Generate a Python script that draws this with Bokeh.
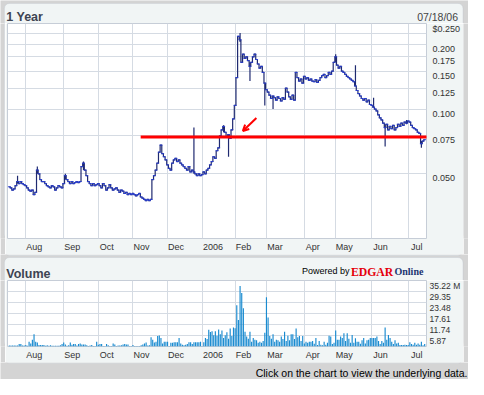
import numpy as np
from bokeh.plotting import figure
from bokeh.layouts import column, row
from bokeh.models import (Range1d, FixedTicker, CustomJSTickFormatter, BoxAnnotation,
                          Label, Arrow, OpenHead, ColumnDataSource)
from bokeh.embed import file_html
from bokeh.resources import INLINE

# ---------------- data ----------------
month_labels = ["Aug", "Sep", "Oct", "Nov", "Dec", "2006", "Feb", "Mar", "Apr", "May", "Jun", "Jul"]
month_start = [10, 33, 54, 75, 96, 117, 137, 156, 179, 198, 220, 242]   # trading-day index

close_jul05 = [0.0435, 0.043, 0.042, 0.0425, 0.044, 0.046, 0.045, 0.046, 0.045, 0.0445]
close_aug05 = [0.044, 0.043, 0.042, 0.0415, 0.042, 0.040, 0.041, 0.052, 0.050, 0.047, 0.046, 0.046,
               0.045, 0.044, 0.0435, 0.043, 0.044, 0.0435, 0.042, 0.043, 0.044, 0.0435, 0.043]
close_sep05 = [0.045, 0.049, 0.047, 0.046, 0.045, 0.046, 0.045, 0.0455, 0.046, 0.0455, 0.046,
               0.054, 0.056, 0.052, 0.049, 0.046, 0.045, 0.044, 0.045, 0.044, 0.0445]
close_oct05 = [0.045, 0.044, 0.043, 0.045, 0.044, 0.042, 0.043, 0.0445, 0.043, 0.042, 0.0425,
               0.043, 0.042, 0.041, 0.042, 0.0415, 0.0405, 0.041, 0.040, 0.0405, 0.040]
close_nov05 = [0.0405, 0.040, 0.0395, 0.040, 0.0405, 0.039, 0.0385, 0.038, 0.0375, 0.038, 0.0375,
               0.038, 0.047, 0.049, 0.052, 0.056, 0.063, 0.068, 0.062, 0.060, 0.058]
close_dec05 = [0.055, 0.053, 0.052, 0.056, 0.058, 0.059, 0.057, 0.058, 0.056, 0.055, 0.054,
               0.053, 0.052, 0.054, 0.051, 0.052, 0.051, 0.050, 0.049, 0.050, 0.049]
close_jan06 = [0.0495, 0.051, 0.050, 0.052, 0.053, 0.055, 0.057, 0.060, 0.059, 0.064, 0.066,
               0.075, 0.080, 0.083, 0.078, 0.074, 0.076, 0.073, 0.080, 0.090]
close_feb06 = [0.104, 0.140, 0.218, 0.210, 0.165, 0.180, 0.172, 0.175, 0.168, 0.158, 0.165,
               0.175, 0.180, 0.170, 0.162, 0.155, 0.158, 0.148, 0.132]
close_mar06 = [0.123, 0.120, 0.116, 0.112, 0.115, 0.113, 0.110, 0.114, 0.112, 0.109, 0.113, 0.111,
               0.125, 0.120, 0.114, 0.111, 0.116, 0.110, 0.148, 0.140, 0.135, 0.138, 0.132]
close_apr06 = [0.142, 0.138, 0.140, 0.136, 0.138, 0.135, 0.134, 0.137, 0.133, 0.136, 0.140,
               0.143, 0.145, 0.140, 0.143, 0.148, 0.145, 0.150, 0.165]
close_may06 = [0.175, 0.160, 0.155, 0.158, 0.150, 0.148, 0.145, 0.142, 0.140, 0.138, 0.136,
               0.134, 0.128, 0.122, 0.118, 0.115, 0.112, 0.110, 0.112, 0.108, 0.110, 0.105]
close_jun06 = [0.104, 0.102, 0.100, 0.098, 0.094, 0.091, 0.089, 0.086, 0.082, 0.085, 0.080,
               0.083, 0.081, 0.084, 0.080, 0.082, 0.085, 0.083, 0.086, 0.084, 0.087, 0.086]
close_jul06 = [0.088, 0.087, 0.084, 0.082, 0.081, 0.080, 0.078, 0.077, 0.069, 0.071, 0.072]

spike_idx = [5, 17, 34, 45, 112, 130, 133, 140, 146, 155, 160, 198, 210, 221, 228, 241, 250]
spike_lo = [0.045, 0.050, 0.047, 0.052, 0.050, 0.078, 0.060, 0.205, 0.135, 0.104, 0.100,
            0.165, 0.128, 0.102, 0.067, 0.085, 0.066]
spike_hi = [0.049, 0.054, 0.050, 0.057, 0.082, 0.084, 0.076, 0.226, 0.165, 0.132, 0.115,
            0.180, 0.160, 0.113, 0.085, 0.089, 0.071]

vol_jul05 = [0.5, 0.5, 0.5, 0.5, 0.6, 0.6, 1.3, 1.3, 0.5, 0.6]
vol_aug05 = [0.8, 0.4, 2.6, 1.6, 3.6, 6.6, 2.6, 2.1, 0.8, 0.8, 0.8, 0.8, 0.4, 0.7, 0.4, 0.7,
             0.4, 0.4, 0.4, 0.4, 0.4, 0.7, 1.3]
vol_sep05 = [2.1, 1.1, 0.4, 0.7, 2.1, 1.0, 1.3, 1.3, 0.5, 1.3, 1.6, 1.1, 1.1, 1.1, 0.7, 0.3,
             0.5, 0.8, 0.3, 0.3, 2.6]
vol_oct05 = [1.0, 1.3, 1.3, 0.3, 0.3, 1.3, 0.7, 0.3, 0.3, 1.6, 1.1, 0.3, 0.5, 0.5, 0.7, 1.1,
             1.3, 1.1, 1.1, 0.3, 0.3]
vol_nov05 = [0.8, 0.3, 0.3, 0.3, 0.3, 0.7, 1.1, 1.6, 2.1, 0.5, 0.7, 5.0, 3.6, 2.1, 2.5, 5.6,
             5.9, 4.6, 1.6, 2.6, 2.6]
vol_dec05 = [2.6, 0.3, 2.0, 2.0, 2.3, 2.3, 2.3, 4.6, 1.6, 1.0, 0.7, 1.0, 1.3, 2.3, 2.3, 1.3,
             2.3, 2.3, 2.3, 2.3, 2.6]
vol_jan06 = [0.3, 2.3, 4.6, 4.0, 9.0, 7.7, 8.2, 6.0, 8.2, 5.8, 9.1, 6.6, 8.6, 4.6, 6.0, 7.6,
             4.1, 9.6, 5.6, 10.2]
vol_feb06 = [9.7, 22.0, 14.1, 32.3, 28.6, 20.4, 7.9, 5.3, 4.1, 7.9, 2.5, 4.6, 3.6, 3.3, 2.0,
             2.6, 2.0, 3.0, 7.4]
vol_mar06 = [26.3, 15.5, 5.6, 4.1, 6.6, 2.5, 3.6, 3.3, 2.5, 5.3, 4.0, 7.9, 3.0, 5.8, 3.3, 6.6,
             6.6, 4.0, 9.6, 4.9, 5.6, 3.0, 5.6]
vol_apr06 = [1.6, 2.6, 2.0, 2.5, 2.5, 3.0, 1.5, 4.6, 0.8, 3.0, 1.0, 0.7, 2.5, 1.0, 2.0, 5.8,
             5.3, 1.3, 2.0]
vol_may06 = [8.6, 3.6, 3.6, 5.3, 4.6, 7.1, 3.0, 7.1, 4.1, 2.0, 6.1, 2.0, 4.4, 2.6, 2.6, 1.5,
             3.3, 4.6, 1.6, 3.3, 3.6, 4.6]
vol_jun06 = [4.6, 4.6, 4.6, 5.3, 3.0, 1.3, 3.0, 2.0, 10.2, 3.6, 6.1, 4.6, 2.5, 1.3, 3.3, 1.6,
             2.0, 0.8, 0.8, 0.8, 1.0, 0.8]
vol_jul06 = [0.8, 2.3, 1.3, 1.0, 2.0, 1.0, 1.6, 1.0, 2.6, 0.7, 1.3]

price_grid = [0.05, 0.075, 0.1, 0.125, 0.15, 0.175, 0.2, 0.225]
price_tick_vals = [0.05, 0.075, 0.1, 0.125, 0.15, 0.175, 0.2, 0.25]
price_tick_labels = ["0.050", "0.075", "0.100", "0.125", "0.150", "0.175", "0.200", "$0.250"]
vol_tick_vals = [5.87, 11.74, 17.61, 23.48, 29.35, 35.22]
vol_tick_labels = ["5.87", "11.74", "17.61", "23.48", "29.35", "35.22 M"]
resistance_level = 0.0741
resistance_from = 79.7
arrow_from = (149.9, 0.0909)
arrow_to = (141.7, 0.0791)

# ---------------- assemble ----------------
close = (close_jul05 + close_aug05 + close_sep05 + close_oct05 + close_nov05 + close_dec05 +
         close_jan06 + close_feb06 + close_mar06 + close_apr06 + close_may06 + close_jun06 + close_jul06)
volume = (vol_jul05 + vol_aug05 + vol_sep05 + vol_oct05 + vol_nov05 + vol_dec05 + vol_jan06 +
          vol_feb06 + vol_mar06 + vol_apr06 + vol_may06 + vol_jun06 + vol_jul06)
idx = list(range(len(close)))

# ---------------- layout ----------------
W = 468
LS, RS = 5, 5            # side strips
CW = W - LS - RS         # plot column width
HDR1, P1H = 23, 231
HDR2, P2H = 26, 82
HF = 379 - HDR1 - P1H - HDR2 - P2H
Y_P1 = HDR1
Y_H2 = HDR1 + P1H
Y_P2 = Y_H2 + HDR2
Y_F = Y_P2 + P2H

BG = "#d4d4d4"
PANEL = "#f1f5f5"
PANEL_LINE = "#b6bec6"
GRID = "#d5dbe3"
TXT = "#333333"
HEAD = "#3d4451"
FONT = "Liberation Sans"
SERIF = "Liberation Serif"

panels = [(3.9, 462.5, 2.9, 255.0), (3.9, 462.5, 257.0, 362.7)]   # left, right, top, bottom (page px)
x_range = Range1d(-1.1, 253.1)
label_pos = [s + (1.6 + 0.5 * 4.8 * len(m)) / 1.711 for s, m in zip(month_start, month_labels)]


def deco(gx0, gy0, w, h):
    """A figure whose frame is its whole canvas: background, panel edges and texts."""
    p = figure(width=w, height=h, output_backend="svg", toolbar_location=None,
               x_range=Range1d(0, w), y_range=Range1d(0, h),
               x_axis_location=None, y_axis_location=None,
               min_border=0, min_border_left=0, min_border_right=0,
               min_border_top=0, min_border_bottom=0)
    p.grid.visible = False
    p.outline_line_color = None
    p.background_fill_color = BG
    p.border_fill_color = BG
    for (l, r, t, b) in panels:
        p.add_layout(BoxAnnotation(left=l - gx0, right=r - gx0, top=h - (t - gy0),
                                   bottom=h - (b - gy0), fill_color=PANEL, fill_alpha=1,
                                   line_color=PANEL_LINE, line_width=1, border_radius=5))
    p._g = (gx0, gy0, h)
    return p


def text(p, gx, gy, s, **kw):
    gx0, gy0, h = p._g
    p.add_layout(Label(x=gx - gx0, y=h - (gy - gy0), text=s, **kw))


def style(p):
    p.border_fill_color = PANEL
    p.background_fill_color = "white"
    p.outline_line_color = "#c6cdd7"
    p.xgrid.ticker = FixedTicker(ticks=month_start)
    p.grid.grid_line_color = GRID
    p.grid.grid_line_width = 1
    for ax in p.axis:
        ax.axis_line_color = None
        ax.major_tick_line_color = None
        ax.minor_tick_line_color = None
        ax.major_tick_out = 0
        ax.major_tick_in = 0
        ax.major_label_text_font = FONT
        ax.major_label_text_font_size = "9px"
        ax.major_label_text_color = TXT
    p.xaxis.ticker = FixedTicker(ticks=label_pos)
    p.xaxis.formatter = CustomJSTickFormatter(args=dict(labels=month_labels),
                                              code="return labels[index];")
    p.xaxis.major_label_standoff = 3


# ---------------- price panel ----------------
p1 = figure(width=CW, height=P1H, output_backend="svg", toolbar_location=None,
            x_range=x_range, y_range=Range1d(0.025, 0.25), y_axis_type="log",
            y_axis_location="right",
            min_border_left=2, min_border_right=36, min_border_top=0, min_border_bottom=16)
style(p1)
p1.ygrid.ticker = FixedTicker(ticks=price_grid)
shift = np.exp(-4.8 / 98.0)
p1.yaxis.ticker = FixedTicker(ticks=[v * shift for v in price_tick_vals])
p1.yaxis.formatter = CustomJSTickFormatter(args=dict(labels=price_tick_labels),
                                           code="return labels[index];")
p1.yaxis.major_label_standoff = 6

src = ColumnDataSource(dict(x=idx, y=close))
p1.segment(x0=spike_idx, y0=spike_lo, x1=spike_idx, y1=spike_hi,
           line_color="#1f2a70", line_width=1.2)
p1.step("x", "y", source=src, mode="center", line_color="#1f2a70", line_width=1.2)
p1.scatter(x=idx, y=close, marker="dash", size=3, line_color="#2b3fd0", line_width=1)
p1.segment(x0=[resistance_from], y0=[resistance_level], x1=[x_range.end + 20],
           y1=[resistance_level], line_color="#ff0000", line_width=3)
p1.add_layout(Arrow(end=OpenHead(size=6, line_color="#ff0000", line_width=2),
                    x_start=arrow_from[0], y_start=arrow_from[1],
                    x_end=arrow_to[0], y_end=arrow_to[1],
                    line_color="#ff0000", line_width=2))

# ---------------- volume panel ----------------
p2 = figure(width=CW, height=P2H, output_backend="svg", toolbar_location=None,
            x_range=x_range, y_range=Range1d(0, 35.22), y_axis_location="right",
            min_border_left=2, min_border_right=36, min_border_top=0, min_border_bottom=16)
style(p2)
p2.ygrid.ticker = FixedTicker(ticks=vol_tick_vals[:-1])
p2.yaxis.ticker = FixedTicker(ticks=[v - 2.7 for v in vol_tick_vals])
p2.yaxis.formatter = CustomJSTickFormatter(args=dict(labels=vol_tick_labels),
                                           code="return labels[index];")
p2.yaxis.major_label_standoff = 3
p2.yaxis.major_label_text_font_size = "8.5px"
p2.vbar(x=idx, top=volume, width=0.7, bottom=0, fill_color="#1a8bd0", line_color=None)

# ---------------- decoration figures ----------------
hdr1 = deco(0, 0, W, HDR1)
text(hdr1, 5.8, 16.5, "1 Year", text_font=FONT, text_font_style="bold",
     text_font_size="12.5px", text_color=HEAD, text_baseline="alphabetic")
text(hdr1, 457.5, 16.5, "07/18/06", text_font=FONT, text_font_size="10.5px",
     text_color="#444444", text_align="right", text_baseline="alphabetic")

hdr2 = deco(0, Y_H2, W, HDR2)
text(hdr2, 5.8, 273.3, "Volume", text_font=FONT, text_font_style="bold",
     text_font_size="12.5px", text_color=HEAD, text_baseline="alphabetic")
text(hdr2, 301.5, 270.9, "Powered by", text_font=FONT, text_font_size="9px",
     text_color="#000000", text_baseline="alphabetic")
text(hdr2, 350.5, 271.8, "EDGAR", text_font=SERIF, text_font_style="bold",
     text_font_size="11.7px", text_color="#e5000a", text_baseline="alphabetic")
text(hdr2, 394.0, 270.9, "Online", text_font=SERIF, text_font_style="bold",
     text_font_size="10px", text_color="#1c3470", text_baseline="alphabetic")

LA, RA = deco(0, Y_P1, LS, P1H), deco(W - RS, Y_P1, RS, P1H)
LB, RB = deco(0, Y_P2, LS, P2H), deco(W - RS, Y_P2, RS, P2H)

ftr = deco(0, Y_F, W, HF)
text(ftr, 467, 372.3, "Click on the chart to view the underlying data.", text_font=FONT,
     text_font_size="10.5px", text_color="#000000", text_align="right", text_baseline="middle")

layout = column(hdr1,
                row(LA, p1, RA, spacing=0),
                hdr2,
                row(LB, p2, RB, spacing=0),
                ftr, spacing=0)
open("out.html", "w").write(file_html(layout, INLINE, title="1 Year"))
